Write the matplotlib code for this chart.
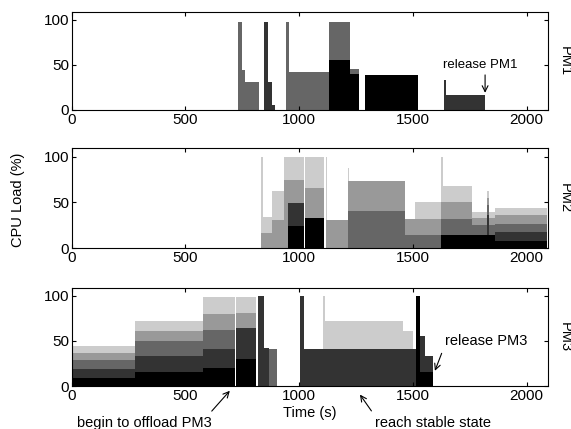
"""
CPU load of three PMs over time (stacked per-VM load, grayscale).
"""

import numpy as np
import matplotlib

matplotlib.use("Agg")
import matplotlib.pyplot as plt

plt.rcParams["font.family"] = ["Liberation Sans", "DejaVu Sans"]
plt.rcParams["font.size"] = 10.5

# segment edges (s) and per-VM load (%) in each segment
pm1_edges = [0, 733, 750, 762, 825, 847, 861, 880, 895, 944, 954, 1130, 1222,
             1262, 1287, 1520, 1636, 1645, 1817, 2100]
pm1_black = [0, 0, 0, 0, 0, 0, 0, 0, 0, 0, 0, 56, 40, 0, 39, 0, 0, 0, 0]
pm1_dark = [0, 0, 0, 0, 0, 98, 31, 6, 0, 0, 0, 0, 0, 0, 0, 0, 33, 17, 0]
pm1_mid = [0, 98, 44, 31, 0, 0, 0, 0, 0, 98, 42, 42, 5, 0, 0, 0, 0, 0, 0]
pm1_gray = [0] * 19
pm1_light = [0] * 19

pm2_edges = [0, 834, 840, 879, 935, 952, 1020, 1024, 1110, 1116, 1122, 1213,
             1220, 1465, 1509, 1623, 1630, 1758, 1825, 1835, 1861, 2090, 2100]
pm2_black = [0, 0, 0, 0, 0, 24, 0, 33, 0, 0, 0, 0, 0, 0, 0, 14, 14, 14, 14, 14, 8, 0]
pm2_dark = [0, 0, 0, 0, 0, 25, 0, 0, 0, 0, 0, 0, 0, 0, 0, 0, 0, 0, 22, 0, 10, 0]
pm2_mid = [0, 0, 0, 0, 0, 0, 0, 0, 0, 0, 0, 41, 41, 14, 14, 18, 18, 11, 11, 11, 9, 0]
pm2_gray = [0, 17, 17, 31, 74, 25, 0, 33, 0, 31, 31, 32, 32, 18, 18, 18, 18, 8, 8, 8, 9, 0]
pm2_light = [0, 83, 17, 31, 26, 26, 0, 34, 0, 69, 0, 15, 0, 0, 18, 50, 18, 7, 7, 7, 8, 0]

pm3_edges = [0, 280, 575, 718, 722, 812, 820, 845, 868, 903, 1004, 1022, 1106,
             1112, 1457, 1500, 1514, 1530, 1553, 1590, 2100]
pm3_black = [9, 16, 20, 0, 30, 0, 0, 0, 0, 0, 0, 0, 0, 0, 0, 0, 100, 15, 15, 0]
pm3_dark = [10, 17, 21, 0, 34, 0, 100, 42, 0, 0, 100, 41, 41, 41, 41, 41, 0, 41, 18, 0]
pm3_mid = [10, 17, 21, 0, 0, 0, 0, 0, 41, 0, 0, 0, 0, 0, 0, 0, 0, 0, 0, 0]
pm3_gray = [8, 11, 18, 0, 17, 0, 0, 0, 0, 0, 0, 0, 0, 0, 0, 0, 0, 0, 0, 0]
pm3_light = [7, 11, 19, 0, 18, 0, 0, 0, 0, 0, 0, 0, 59, 31, 20, 0, 0, 0, 0, 0]

VM_COLORS = ["#000000", "#333333", "#666666", "#999999", "#cccccc"]


def draw_panel(ax, edges, layers, name):
    x = np.array(edges, dtype=float)
    base = np.zeros(len(x))
    for vals, color in zip(layers, VM_COLORS):
        v = np.append(np.array(vals, dtype=float), vals[-1])
        top = base + v
        ax.fill_between(x, base, top, step="post", facecolor=color, linewidth=0)
        base = top
    ax.set_xlim(0, 2095)
    ax.set_ylim(0, 109)
    ax.set_xticks([0, 500, 1000, 1500, 2000])
    ax.set_yticks([0, 50, 100])
    ax.tick_params(direction="in", top=True, right=True, length=3, pad=2,
                   labelsize=11)
    ax.text(1.034, 0.5, name, rotation=-90, ha="center", va="center",
            transform=ax.transAxes)


fig = plt.figure(figsize=(5.71, 4.29), dpi=100)
ax1 = fig.add_axes([0.1256, 0.7436, 0.8347, 0.229])
ax2 = fig.add_axes([0.1256, 0.4212, 0.8347, 0.233])
ax3 = fig.add_axes([0.1256, 0.1002, 0.8347, 0.229])

draw_panel(ax1, pm1_edges, [pm1_black, pm1_dark, pm1_mid, pm1_gray, pm1_light], "PM1")
draw_panel(ax2, pm2_edges, [pm2_black, pm2_dark, pm2_mid, pm2_gray, pm2_light], "PM2")
draw_panel(ax3, pm3_edges, [pm3_black, pm3_dark, pm3_mid, pm3_gray, pm3_light], "PM3")

ax3.set_xlabel("Time (s)", labelpad=2)
fig.text(0.032, 0.534, "CPU Load (%)", rotation=90, ha="center", va="center")

# annotations
ax1.text(1633, 50, "release PM1", ha="left", va="center", fontsize=9.5)
ax1.annotate("", xy=(1817, 16), xytext=(1817, 42),
             arrowprops=dict(arrowstyle="->", lw=0.8, color="k"))

ax3.annotate("release PM3", xy=(1592, 14), xytext=(1640, 50), ha="left", va="center",
             arrowprops=dict(arrowstyle="->", lw=0.8, color="k", relpos=(0.0, 0.2)))
ax3.annotate("begin to offload PM3", xy=(703, -3), xytext=(22, -41),
             ha="left", va="center", annotation_clip=False,
             arrowprops=dict(arrowstyle="->", lw=0.8, color="k", relpos=(0.97, 1.0)))
ax3.annotate("reach stable state", xy=(1260, -7), xytext=(1333, -41),
             ha="left", va="center", annotation_clip=False,
             arrowprops=dict(arrowstyle="->", lw=0.8, color="k", relpos=(0.0, 1.0)))

fig.savefig("out.png", dpi=100)
